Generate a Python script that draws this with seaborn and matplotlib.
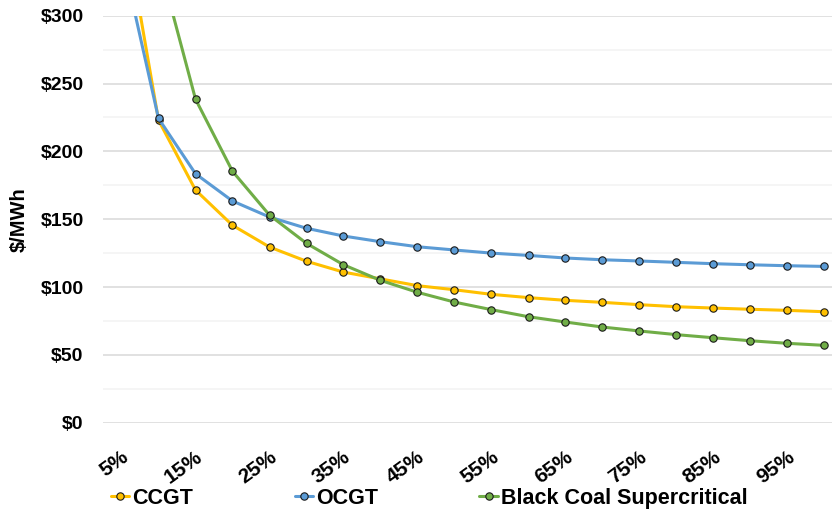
import matplotlib
matplotlib.use("Agg")
import matplotlib.pyplot as plt
import matplotlib.transforms as mtransforms
import seaborn as sns
import pandas as pd
from matplotlib.ticker import MultipleLocator, FuncFormatter

# Capacity factor categories (5% .. 100%)
capacity_factor = ["5%", "10%", "15%", "20%", "25%", "30%", "35%", "40%", "45%", "50%",
                   "55%", "60%", "65%", "70%", "75%", "80%", "85%", "90%", "95%", "100%"]

# Levelised cost, $/MWh
ccgt = [381, 223, 171.5, 145.5, 129.5, 119, 111, 106, 101, 98,
        94.6, 92.2, 90.2, 88.7, 87, 85.5, 84.5, 83.6, 82.8, 81.8]
ocgt = [346, 224.3, 183.5, 163.4, 151.6, 143.3, 137.6, 133.4, 129.7, 127.3,
        125, 123.3, 121.4, 120.1, 119.2, 118.2, 117.2, 116.4, 115.7, 115.2]
black_coal = [650, 341, 238.5, 185.3, 153, 132.2, 116.4, 104.9, 96.1, 88.9,
              83.3, 78.1, 74.2, 70.5, 67.6, 64.9, 62.6, 60.4, 58.5, 57]

series_names = ["CCGT", "OCGT", "Black Coal Supercritical"]
series_values = [ccgt, ocgt, black_coal]
series_colors = ["#FFC000", "#5B9BD5", "#70AD47"]

frames = []
for name, vals in zip(series_names, series_values):
    frames.append(pd.DataFrame({"pos": range(len(capacity_factor)),
                                "cost": vals, "series": name}))
df = pd.concat(frames, ignore_index=True)

sns.set_style("white")
plt.rcParams["font.family"] = ["Liberation Sans", "DejaVu Sans"]
plt.rcParams["font.weight"] = "bold"
plt.rcParams["text.color"] = "black"
plt.rcParams["xtick.color"] = "black"
plt.rcParams["ytick.color"] = "black"
plt.rcParams["axes.labelcolor"] = "black"

fig = plt.figure(figsize=(8.32, 5.13), dpi=100)
ax = fig.add_axes([103 / 832, 1 - 422.7 / 513, 740 / 832, 407 / 513])

sns.lineplot(data=df, x="pos", y="cost", hue="series", hue_order=series_names,
             palette=series_colors, marker="o", markersize=5.3, linewidth=2.2,
             markeredgecolor="#1a1a1a", markeredgewidth=0.8, ax=ax, legend=True)

ax.set_xlim(-0.5, len(capacity_factor) - 0.5)
ax.set_ylim(0, 300)

# gridlines: major every $50, lighter minor every $25
ax.yaxis.set_major_locator(MultipleLocator(50))
ax.yaxis.set_minor_locator(MultipleLocator(25))
ax.yaxis.set_major_formatter(FuncFormatter(lambda v, p: f"${v:.0f}"))
ax.grid(which="major", axis="y", color="#d9d9d9", linewidth=1.1)
ax.grid(which="minor", axis="y", color="#f2f2f2", linewidth=1.1)
ax.grid(axis="x", visible=False)
ax.set_axisbelow(True)
for s in ax.spines.values():
    s.set_visible(False)

ax.set_xticks(range(0, len(capacity_factor), 2))
ax.set_xticklabels(capacity_factor[::2], rotation=36, ha="right", va="center",
                   rotation_mode="anchor", fontsize=15, fontweight="bold")
ax.tick_params(axis="x", length=0, pad=23)
shift = mtransforms.ScaledTranslation(5 / 100, 0, fig.dpi_scale_trans)
for lbl in ax.get_xticklabels():
    lbl.set_transform(lbl.get_transform() + shift)
ax.tick_params(axis="y", which="both", length=0, pad=14, labelsize=14)
for lbl in ax.get_yticklabels():
    lbl.set_fontweight("bold")

ax.set_xlabel("")
ax.set_ylabel("$/MWh", fontsize=14.5, fontweight="bold")
ax.yaxis.label.set_va("center")
ax.yaxis.set_label_coords(-0.1135, 0.5)

handles, labels = ax.get_legend_handles_labels()
ax.get_legend().remove()
fig.legend(handles, labels, loc="center", bbox_to_anchor=(0.516, 0.029), ncol=3,
           frameon=False, prop={"size": 15.5, "weight": "bold"},
           handlelength=0.85, handletextpad=0.15, columnspacing=4.7,
           markerscale=1.0)

fig.savefig("out.png", dpi=100)
